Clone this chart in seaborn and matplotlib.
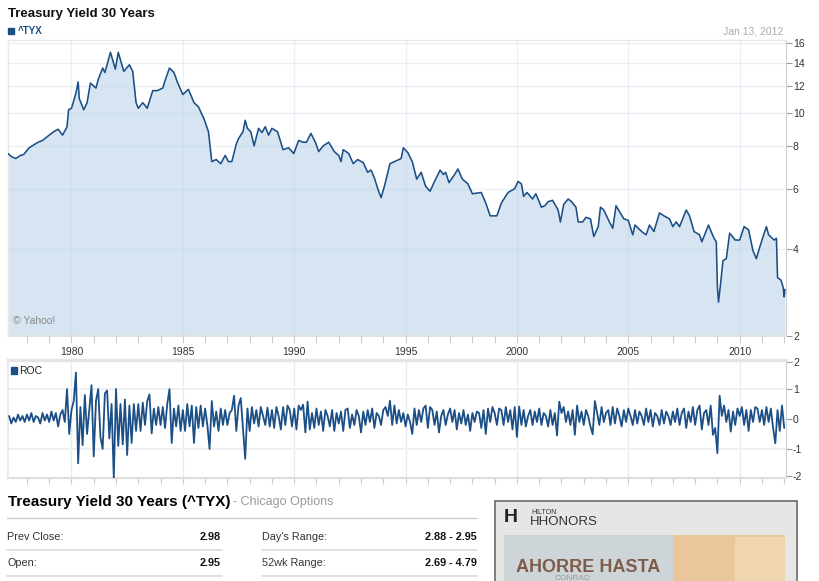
import numpy as np
import pandas as pd
import matplotlib
matplotlib.use("Agg")
import matplotlib.pyplot as plt
import seaborn as sns
from matplotlib.patches import Rectangle

# ---------------- data ----------------
yield_years = [
    1977.15, 1977.3, 1977.5, 1977.7, 1977.85, 1978.1, 1978.3, 1978.5, 1978.7, 1978.9,
    1979.2, 1979.4, 1979.6, 1979.8, 1979.87, 1980.0, 1980.2, 1980.3, 1980.35, 1980.55,
    1980.7, 1980.85, 1981.1, 1981.2, 1981.4, 1981.5, 1981.75, 1981.97, 1982.1, 1982.35,
    1982.6, 1982.75, 1982.9, 1983.0, 1983.2, 1983.4, 1983.65, 1983.85, 1984.1, 1984.2,
    1984.4, 1984.6, 1984.75, 1985.0, 1985.25, 1985.5, 1985.7, 1985.95, 1986.15, 1986.3,
    1986.5, 1986.7, 1986.9, 1987.05, 1987.2, 1987.4, 1987.5, 1987.7, 1987.8, 1987.9,
    1988.05, 1988.2, 1988.4, 1988.55, 1988.7, 1988.85, 1989.0, 1989.25, 1989.5, 1989.75,
    1989.98, 1990.2, 1990.4, 1990.55, 1990.75, 1990.95, 1991.1, 1991.3, 1991.55, 1991.8,
    1992.0, 1992.1, 1992.2, 1992.45, 1992.65, 1992.85, 1993.1, 1993.3, 1993.45, 1993.6,
    1993.75, 1993.9, 1994.05, 1994.3, 1994.5, 1994.8, 1994.9, 1995.1, 1995.3, 1995.5,
    1995.7, 1995.9, 1996.1, 1996.3, 1996.55, 1996.7, 1996.8, 1996.95, 1997.2, 1997.35,
    1997.55, 1997.8, 1998.0, 1998.4, 1998.6, 1998.8, 1999.1, 1999.3, 1999.6, 1999.9,
    2000.05, 2000.2, 2000.3, 2000.45, 2000.7, 2000.85, 2001.1, 2001.25, 2001.4, 2001.6,
    2001.85, 2001.95, 2002.1, 2002.3, 2002.45, 2002.65, 2002.75, 2002.95, 2003.1, 2003.3,
    2003.45, 2003.65, 2003.75, 2003.9, 2004.15, 2004.3, 2004.45, 2004.6, 2004.8, 2005.0,
    2005.2, 2005.3, 2005.6, 2005.8, 2005.95, 2006.15, 2006.4, 2006.6, 2006.85, 2007.0,
    2007.15, 2007.3, 2007.6, 2007.75, 2007.95, 2008.2, 2008.3, 2008.6, 2008.75, 2008.85,
    2008.95, 2009.0, 2009.05, 2009.15, 2009.25, 2009.4, 2009.55, 2009.8, 2010.0, 2010.2,
    2010.4, 2010.6, 2010.75, 2010.85, 2011.05, 2011.2, 2011.3, 2011.55, 2011.65, 2011.7,
    2011.85, 2011.95, 2012.0, 2012.03,
]
yield_values = [
    7.6, 7.45, 7.35, 7.5, 7.55, 7.9, 8.05, 8.2, 8.3, 8.5,
    8.8, 8.95, 8.6, 9.1, 10.2, 10.3, 11.4, 12.3, 11.0, 10.2,
    10.7, 12.2, 11.8, 12.5, 13.5, 13.1, 15.0, 13.4, 15.0, 13.2,
    13.8, 13.2, 10.7, 10.3, 10.7, 10.3, 11.6, 11.6, 11.8, 12.4,
    13.5, 13.1, 12.3, 11.3, 11.7, 10.7, 10.4, 9.6, 8.8, 7.2,
    7.3, 7.1, 7.5, 7.2, 7.2, 8.1, 8.4, 8.8, 9.5, 9.0,
    8.8, 8.0, 9.0, 8.75, 9.1, 8.6, 9.0, 8.8, 7.8, 7.9,
    7.6, 8.3, 8.2, 8.2, 8.7, 8.2, 7.7, 8.0, 8.2, 7.7,
    7.5, 7.2, 7.8, 7.6, 7.1, 7.3, 7.15, 6.7, 6.8, 6.45,
    6.0, 5.65, 6.1, 7.1, 7.2, 7.35, 7.9, 7.65, 7.2, 6.4,
    6.7, 6.1, 5.9, 6.3, 6.8, 6.6, 6.7, 6.25, 6.6, 6.85,
    6.4, 6.2, 5.8, 5.85, 5.45, 5.0, 5.0, 5.45, 5.85, 6.0,
    6.3, 6.2, 5.7, 5.85, 5.6, 5.8, 5.3, 5.35, 5.5, 5.55,
    5.2, 4.8, 5.4, 5.6, 5.5, 5.3, 4.8, 4.8, 4.95, 4.9,
    4.35, 4.65, 5.3, 5.2, 4.8, 4.6, 5.35, 5.15, 4.9, 4.85,
    4.4, 4.7, 4.5, 4.4, 4.7, 4.5, 5.1, 5.0, 4.9, 4.65,
    4.8, 4.65, 5.2, 5.0, 4.5, 4.4, 4.2, 4.7, 4.45, 4.3,
    4.2, 3.1, 2.8, 3.2, 3.7, 3.75, 4.45, 4.25, 4.25, 4.65,
    4.55, 3.95, 3.75, 3.95, 4.35, 4.65, 4.4, 4.25, 4.3, 3.3,
    3.25, 3.1, 2.9, 3.05,
]

roc_start_year = 1977.2
roc_step_years = 0.1
roc_values = [
    # 1977.2 - 1977.9
    0.1, -0.15, 0.05, -0.1, 0.15, -0.05, 0.1, -0.1,
    # 1978
    0.15, -0.05, 0.2, -0.1, 0.1, 0.05, -0.15, 0.2, -0.05, 0.15,
    # 1979
    -0.1, 0.25, -0.05, 0.2, -0.25, 0.15, 0.3, -0.1, 1.0, -0.5,
    # 1980
    0.3, 0.6, 1.55, -1.48, 0.4, -0.87, 0.8, -0.5, 0.3, 1.13,
    # 1981
    -1.25, 0.6, 1.0, -0.6, -1.0, 0.85, 0.95, -0.65, 0.5, -1.98,
    # 1982
    1.0, -0.9, 0.5, -0.85, 0.65, -1.2, 0.45, -0.8, 0.5, -0.4,
    # 1983
    0.5, -0.4, 0.55, -0.2, 0.6, 0.82, -0.48, 0.35, -0.2, 0.4,
    # 1984
    -0.2, 0.4, -0.3, 0.5, 1.0, -0.8, 0.35, -0.25, 0.45, -0.4,
    # 1985
    0.3, -0.4, 0.5, -0.25, 0.45, -0.8, 0.4, -0.3, 0.45, -0.25,
    # 1986
    0.35, -0.2, -1.0, 0.6, -0.25, 0.25, -0.4, 0.35, -0.2, 0.3,
    # 1987
    -0.2, 0.2, 0.3, 0.78, -0.4, 0.45, 0.7, -0.3, -1.33, 0.35,
    # 1988
    -0.4, 0.4, -0.15, 0.3, -0.25, 0.4, 0.1, -0.2, 0.38, -0.25,
    # 1989
    0.3, -0.3, 0.4, 0.1, -0.35, 0.4, -0.2, 0.45, 0.3, -0.25,
    # 1990
    0.35, -0.35, 0.45, 0.3, 0.48, -0.45, 0.58, -0.35, 0.2, -0.3,
    # 1991
    0.35, -0.2, 0.25, -0.4, 0.3, 0.1, -0.25, 0.3, -0.4, 0.2,
    # 1992
    -0.15, 0.25, -0.4, 0.3, 0.35, -0.3, 0.15, -0.2, 0.3, 0.1,
    # 1993
    -0.45, 0.25, -0.2, 0.3, -0.1, 0.35, -0.3, 0.2, 0.1, -0.2,
    # 1994
    0.3, 0.4, 0.1, 0.61, -0.2, 0.45, -0.15, 0.3, -0.1, 0.2,
    # 1995
    -0.25, 0.15, -0.1, -0.5, 0.35, -0.2, 0.3, -0.1, 0.35, 0.45,
    # 1996
    -0.3, 0.4, 0.3, -0.2, 0.25, -0.45, 0.1, 0.3, -0.2, 0.15,
    # 1997
    0.35, -0.1, 0.3, -0.35, 0.2, -0.15, 0.3, -0.2, 0.15, -0.4,
    # 1998
    0.2, -0.1, 0.25, 0.2, -0.3, 0.3, -0.5, 0.35, -0.1, 0.4,
    # 1999
    0.2, -0.2, 0.35, 0.3, -0.2, 0.4, -0.1, 0.3, -0.35, 0.4,
    # 2000
    -0.6, 0.42, -0.2, 0.3, -0.25, 0.1, 0.3, -0.2, 0.25, -0.1,
    # 2001
    0.35, -0.2, 0.2, 0.1, -0.25, 0.3, -0.2, 0.2, -0.55, 0.58,
    # 2002
    0.2, 0.4, -0.1, 0.25, -0.2, 0.3, -0.53, 0.45, -0.1, 0.25,
    # 2003
    -0.2, 0.3, 0.1, -0.25, -0.51, 0.6, 0.2, -0.2, 0.4, -0.1,
    # 2004
    0.2, 0.3, -0.2, 0.4, -0.15, 0.35, 0.1, -0.25, 0.3, -0.1,
    # 2005
    0.35, 0.1, -0.2, 0.3, -0.15, 0.25, 0.1, -0.2, 0.35, -0.1,
    # 2006
    0.3, -0.25, 0.2, 0.1, -0.2, 0.3, -0.15, 0.25, 0.1, -0.2,
    # 2007
    0.25, -0.1, 0.35, -0.2, 0.2, 0.35, -0.3, 0.25, -0.1, 0.4,
    # 2008
    -0.2, 0.3, 0.45, -0.35, 0.2, 0.3, -0.2, 0.45, -0.53, -0.3,
    # 2009
    -1.14, 0.78, 0.1, 0.45, -0.1, 0.3, -0.42, 0.25, -0.2, 0.35,
    # 2010
    0.1, 0.4, -0.2, 0.3, -0.4, 0.3, -0.1, 0.4, 0.35, -0.1,
    # 2011
    0.3, -0.2, 0.4, -0.1, 0.35, -0.3, -0.81, 0.3, -0.4, 0.45,
    # 2012
    -0.3,
]

year_ticks = [1980, 1985, 1990, 1995, 2000, 2005, 2010]
yield_tick_values = [4, 6, 8, 10, 12, 14, 16]
yield_tick_labels = ["2", "4", "6", "8", "10", "12", "14", "16"]
roc_tick_values = [-1, 0, 1]
roc_tick_labels = ["-2", "-1", "0", "1", "2"]

quote_title = "Treasury Yield 30 Years (^TYX)"
quote_rows = [("Prev Close:", "2.98", "Day's Range:", "2.88 - 2.95"),
              ("Open:", "2.95", "52wk Range:", "2.69 - 4.79")]

# ---------------- style ----------------
sns.set_theme(style="white")
plt.rcParams["font.family"] = ["Liberation Sans", "DejaVu Sans"]

W, H = 819, 581
fig = plt.figure(figsize=(W / 100, H / 100), dpi=100)

def fx(x):
    return x / W

def fy(y):
    return 1 - y / H

LINE = "#1b4f86"
FILL = "#d6e5f1"
GRID = (0.72, 0.80, 0.88, 0.28)
SPINE = "#dcdcdc"

df_y = pd.DataFrame({"year": yield_years, "value": yield_values})
roc_years = roc_start_year + roc_step_years * np.arange(len(roc_values))
df_r = pd.DataFrame({"year": roc_years, "value": roc_values})

xmin, xmax = 1977.15, 2012.08
ybot, ytop = 2.23, 16.3

# ---------------- main axes ----------------
ax = fig.add_axes([fx(8), fy(336), fx(786) - fx(8), fy(40) - fy(336)])
ax.set_yscale("log")
ax.fill_between(df_y["year"], df_y["value"], ybot, color=FILL, lw=0, zorder=1)
sns.lineplot(data=df_y, x="year", y="value", ax=ax, color=LINE, lw=1.15,
             zorder=3, estimator=None, sort=False)
ax.set_xlim(xmin, xmax)
ax.set_ylim(ybot, ytop)
ax.set_xlabel("")
ax.set_ylabel("")
for yr in year_ticks:
    ax.axvline(yr, color=GRID, lw=1, zorder=2)
for v in yield_tick_values:
    ax.axhline(v, color=GRID, lw=1, zorder=2)
ax.yaxis.tick_right()
ax.set_yticks([ybot] + yield_tick_values)
ax.set_yticklabels(yield_tick_labels)
ax.yaxis.set_minor_locator(matplotlib.ticker.NullLocator())
ax.set_xticks(year_ticks)
ax.set_xticklabels([str(y) for y in year_ticks])
ax.set_xticks(list(range(1978, 2013)), minor=True)
ax.tick_params(axis="x", which="both", direction="out", length=5, color="#cccccc",
               labelsize=7.5, labelcolor="#333333", pad=3, bottom=True, width=0.8)
ax.tick_params(axis="y", which="major", direction="out", length=4, color="#999999",
               labelsize=7.5, labelcolor="#333333", pad=1, right=True, left=False, width=0.8)
for s in ["top", "left"]:
    ax.spines[s].set_color("#e8e8e8")
    ax.spines[s].set_linewidth(1)
ax.spines["bottom"].set_color("#e0e0e0")
ax.spines["right"].set_color("#d0d0d0")
ax.spines["right"].set_linewidth(0.8)
ax.text(0.006, 0.035, "\u00a9 Yahoo!", transform=ax.transAxes, fontsize=7.5,
        color="#888888", ha="left", va="bottom", zorder=4)

# ---------------- ROC axes ----------------
ax2 = fig.add_axes([fx(8), fy(478), fx(786) - fx(8), fy(360) - fy(478)])
sns.lineplot(data=df_r, x="year", y="value", ax=ax2, color=LINE, lw=1.3,
             zorder=3, estimator=None, sort=False)
ax2.set_xlim(xmin, xmax)
ax2.set_ylim(-1.97, 1.97)
ax2.set_xlabel("")
ax2.set_ylabel("")
for yr in year_ticks:
    ax2.axvline(yr, color=(0.90, 0.92, 0.95), lw=1, zorder=1)
for v in roc_tick_values:
    ax2.axhline(v, color="#eef0f3", lw=1.5, zorder=1)
ax2.yaxis.tick_right()
ax2.set_yticks([-1.9, -1, 0, 1, 1.9])
ax2.set_yticklabels(roc_tick_labels)
ax2.set_xticks(year_ticks)
ax2.set_xticklabels([])
ax2.set_xticks(list(range(1978, 2013)), minor=True)
ax2.tick_params(axis="x", which="both", direction="out", length=4, color="#cccccc",
                bottom=True, width=0.8)
ax2.tick_params(axis="y", direction="out", length=4, color="#999999",
                labelsize=7.5, labelcolor="#333333", pad=1, right=True, left=False, width=0.8)
ax2.spines["top"].set_color("#e4e4e4")
ax2.spines["top"].set_linewidth(2.5)
ax2.spines["left"].set_color("#e8e8e8")
ax2.spines["bottom"].set_color("#dddddd")
ax2.spines["bottom"].set_linewidth(1.5)
ax2.spines["right"].set_color("#d0d0d0")
ax2.spines["right"].set_linewidth(0.8)

# ---------------- header texts ----------------
fig.text(fx(8), fy(14), "Treasury Yield 30 Years", fontsize=9.5, fontweight="bold",
         color="#111111", ha="left", va="center")
fig.patches.append(Rectangle((fx(7.5), fy(34)), fx(6.5), fy(27.5) - fy(34),
                             transform=fig.transFigure, color=LINE))
fig.text(fx(17.5), fy(30.5), "^TYX", fontsize=7, fontweight="bold", color=LINE,
         ha="left", va="center")
fig.text(fx(783), fy(31), "Jan 13, 2012", fontsize=7.5, color="#aaaaaa",
         ha="right", va="center")
fig.patches.append(Rectangle((fx(10.5), fy(373.5)), fx(6), fy(367.5) - fy(373.5),
                             transform=fig.transFigure, color=LINE))
fig.text(fx(19), fy(370.5), "ROC", fontsize=7.5, color="#222222", ha="left", va="center")

# ---------------- quote section ----------------
fig.text(fx(8), fy(502), quote_title, fontsize=11, fontweight="bold",
         color="#000000", ha="left", va="center")
fig.text(fx(233), fy(502.5), "- Chicago Options", fontsize=9, color="#9a9a9a",
         ha="left", va="center")
fig.add_artist(plt.Line2D([fx(7), fx(477)], [fy(518), fy(518)], color="#cccccc",
                          lw=1, transform=fig.transFigure))
row_y = [537, 563]
line_y = [549.5, 575.5]
for (l1, v1, l2, v2), ry, ly in zip(quote_rows, row_y, line_y):
    fig.text(fx(7), fy(ry), l1, fontsize=7.8, color="#333333", ha="left", va="center")
    fig.text(fx(221), fy(ry), v1, fontsize=7.8, fontweight="bold", color="#111111",
             ha="right", va="center")
    fig.text(fx(262), fy(ry), l2, fontsize=7.8, color="#333333", ha="left", va="center")
    fig.text(fx(477), fy(ry), v2, fontsize=7.8, fontweight="bold", color="#111111",
             ha="right", va="center")
    fig.add_artist(plt.Line2D([fx(7), fx(222)], [fy(ly), fy(ly)], color="#dddddd",
                              lw=1.3, transform=fig.transFigure))
    fig.add_artist(plt.Line2D([fx(262), fx(477)], [fy(ly), fy(ly)], color="#dddddd",
                              lw=1.3, transform=fig.transFigure))

# ---------------- ad box ----------------
fig.patches.append(Rectangle((fx(495), fy(585)), fx(797) - fx(495), fy(501) - fy(585),
                             transform=fig.transFigure, facecolor="#e6e6e4",
                             edgecolor="#6a6a6a", lw=1.2))
fig.patches.append(Rectangle((fx(504), fy(585)), fx(673) - fx(504), fy(535) - fy(585),
                             transform=fig.transFigure, facecolor="#cdd5d8",
                             edgecolor="none"))
fig.patches.append(Rectangle((fx(673), fy(585)), fx(785) - fx(673), fy(535) - fy(585),
                             transform=fig.transFigure, facecolor="#e9c79a",
                             edgecolor="none"))
fig.patches.append(Rectangle((fx(735), fy(585)), fx(785) - fx(735), fy(537) - fy(585),
                             transform=fig.transFigure, facecolor="#f0d6b0",
                             edgecolor="none"))
fig.text(fx(504), fy(517), "H", fontsize=14, fontweight="bold", color="#222222",
         ha="left", va="center")
fig.text(fx(531), fy(512.5), "HILTON", fontsize=5, color="#333333", ha="left", va="center")
fig.text(fx(530), fy(522), "HHONORS", fontsize=9.5, color="#333333", ha="left", va="center")
fig.text(fx(516), fy(567), "AHORRE HASTA", fontsize=13, fontweight="bold",
         color="#7e5c48", ha="left", va="center")
fig.text(fx(555), fy(579), "CONRAD", fontsize=6, color="#9a9a9a", ha="left", va="center")

fig.savefig("out.png", dpi=100)
